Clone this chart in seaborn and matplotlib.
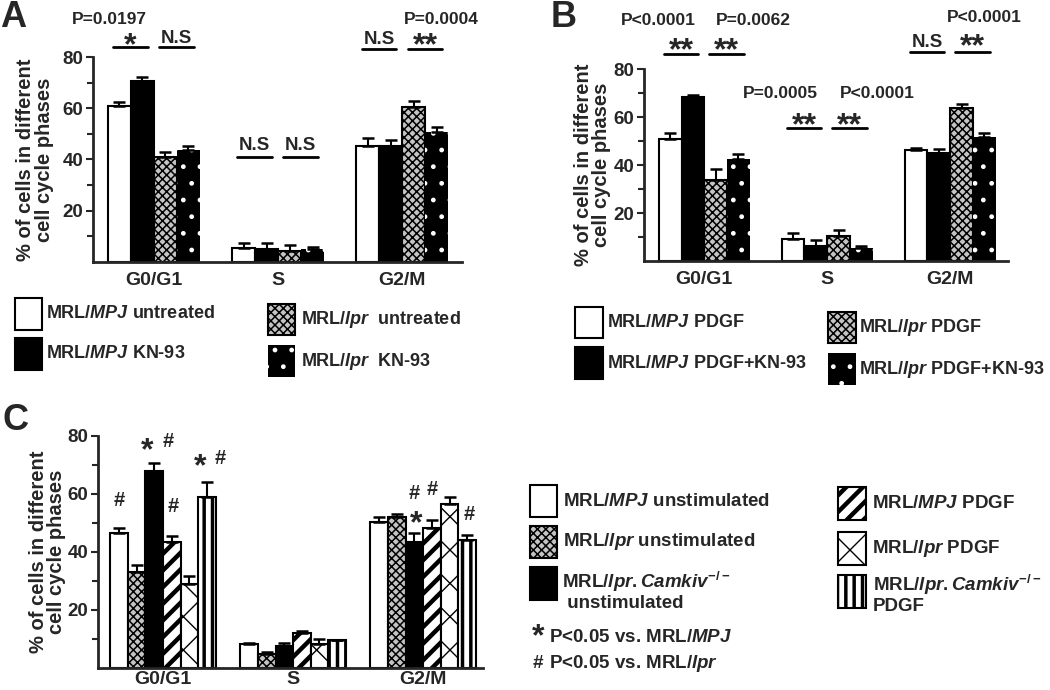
import numpy as np
import pandas as pd
import matplotlib
matplotlib.use("Agg")
import matplotlib.pyplot as plt
from matplotlib.patches import Rectangle
import seaborn as sns

# ---- data (mean %, upper SEM) ----
phases = ["G0/G1", "S", "G2/M"]

# panel A
a_groups = ["MRL/MPJ untreated", "MRL/MPJ KN-93", "MRL/lpr untreated", "MRL/lpr KN-93"]
a_mpj_unt = [61.0, 5.6, 45.3]
a_mpj_unt_err = [1.5, 1.9, 3.2]
a_mpj_kn = [70.7, 5.2, 45.3]
a_mpj_kn_err = [1.3, 2.3, 2.2]
a_lpr_unt = [40.9, 4.3, 60.3]
a_lpr_unt_err = [2.1, 2.2, 2.6]
a_lpr_kn = [43.8, 4.9, 50.8]
a_lpr_kn_err = [1.6, 0.8, 1.7]

# panel B
b_groups = ["MRL/MPJ PDGF", "MRL/MPJ PDGF+KN-93", "MRL/lpr PDGF", "MRL/lpr PDGF+KN-93"]
b_mpj = [50.7, 9.2, 46.1]
b_mpj_err = [2.8, 2.6, 1.0]
b_mpj_kn = [68.3, 6.4, 44.9]
b_mpj_kn_err = [0.7, 2.5, 1.8]
b_lpr = [33.7, 10.5, 63.7]
b_lpr_err = [4.5, 2.6, 1.8]
b_lpr_kn = [42.6, 5.4, 51.7]
b_lpr_kn_err = [2.0, 0.9, 1.8]

# panel C
c_groups = ["MPJ unstim", "lpr unstim", "Camkiv unstim", "MPJ PDGF", "lpr PDGF", "Camkiv PDGF"]
c_mpj_uns = [46.5, 8.3, 50.2]
c_mpj_uns_err = [1.7, 0.3, 1.7]
c_lpr_uns = [33.1, 5.0, 52.2]
c_lpr_uns_err = [2.5, 0.6, 0.8]
c_cam_uns = [68.1, 7.5, 43.6]
c_cam_uns_err = [2.5, 1.1, 2.9]
c_mpj_pdgf = [43.6, 12.1, 48.2]
c_mpj_pdgf_err = [2.0, 0.5, 2.7]
c_lpr_pdgf = [29.0, 8.3, 56.6]
c_lpr_pdgf_err = [2.8, 1.7, 2.5]
c_cam_pdgf = [59.1, 9.5, 44.2]
c_cam_pdgf_err = [5.0, 0.3, 1.5]

# ---- style ----
sns.set_style("ticks")
plt.rcParams["font.family"] = ["Liberation Sans", "DejaVu Sans"]
plt.rcParams["font.weight"] = "bold"
plt.rcParams["axes.labelweight"] = "bold"
plt.rcParams["mathtext.fontset"] = "custom"
plt.rcParams["mathtext.rm"] = "Liberation Sans:bold"
plt.rcParams["mathtext.bf"] = "Liberation Sans:bold"
plt.rcParams["mathtext.it"] = "Liberation Sans:italic:bold"
plt.rcParams["hatch.linewidth"] = 1.0

W, H = 1050, 690
fig = plt.figure(figsize=(10.5, 6.9), dpi=100)


def fx(x):
    return x / W


def fy(y):
    return 1 - y / H


def style_patch(p, kind):
    if kind == "white":
        p.set_facecolor("white")
    elif kind == "black":
        p.set_facecolor("black")
    elif kind == "dots":
        p.set_facecolor("black")
        p.set_edgecolor("white")
        p.set_linewidth(0)
        p.set_hatch(".")
        if hasattr(p, "set_hatchcolor"):
            p.set_hatchcolor("white")
    else:
        hatch, hlw, face = {"checker": ("xxxx", 1.1, "#c4c4c4"),
                            "diag": ("//", 3.2, "white"),
                            "cross": ("x", 1.0, "white"),
                            "vert": ("||", 2.5, "white")}[kind]
        p.set_facecolor(face)
        p.set_hatch(hatch)
        if hasattr(p, "set_hatchcolor"):
            p.set_hatchcolor("black")
        if hasattr(p, "set_hatch_linewidth"):
            p.set_hatch_linewidth(hlw)


def draw_panel(rect, groups, values, errs, kinds, width, xlim, xpad=7):
    ax = fig.add_axes(rect)
    df = pd.DataFrame({
        "phase": np.tile(phases, len(groups)),
        "group": np.repeat(groups, len(phases)),
        "value": np.concatenate(values),
    })
    sns.barplot(data=df, x="phase", y="value", hue="group", order=phases,
                hue_order=groups, palette=["white"] * len(groups), saturation=1,
                edgecolor="black", linewidth=1.5, width=width, errorbar=None,
                legend=False, ax=ax)
    centers = []
    for cont, kind, err in zip(ax.containers, kinds, errs):
        xs, ys = [], []
        for p in cont:
            style_patch(p, kind)
            xs.append(p.get_x() + p.get_width() / 2)
            ys.append(p.get_height())
        ax.errorbar(xs, ys, yerr=[np.zeros(len(err)), err], fmt="none",
                    ecolor="black", elinewidth=1.5, capsize=4, capthick=1.8, zorder=3)
        centers.append(xs)
    ax.set_xlim(*xlim)
    ax.set_ylim(0, 80)
    ax.set_yticks([20, 40, 60, 80])
    ax.set_yticks([10, 30, 50, 70], minor=True)
    ax.tick_params(axis="y", which="major", length=5, width=1.5, labelsize=13.5, pad=2)
    ax.tick_params(axis="y", which="minor", length=4, width=1.5)
    ax.tick_params(axis="x", length=0, labelsize=14, pad=xpad)
    ax.set_xlabel("")
    ax.set_ylabel("% of cells in different\ncell cycle phases", fontsize=14.5,
                  linespacing=0.95)
    sns.despine(ax=ax)
    for s in ("left", "bottom"):
        ax.spines[s].set_linewidth(2)
    return ax, centers


def sig(ax, centers, ph, i, j, y_line, label, y_lab, ptxt=None, pdx=0, py=None):
    x0 = centers[i][ph] - 0.05
    x1 = centers[j][ph] + 0.045
    ax.plot([x0, x1], [y_line, y_line], color="black", lw=2, clip_on=False)
    xm = (x0 + x1) / 2
    fs = 23 if "*" in label else 13.5
    ax.text(xm, y_lab, label, ha="center", va="baseline", fontsize=fs,
            fontweight="bold", clip_on=False)
    if ptxt:
        ax.text(xm + pdx, py, ptxt, ha="center", va="baseline", fontsize=12.5,
                fontweight="bold", clip_on=False)


# ---- panel A ----
axA, cA = draw_panel([fx(93), fy(262), 369 / W, 205 / H], a_groups,
                     [a_mpj_unt, a_mpj_kn, a_lpr_unt, a_lpr_kn],
                     [a_mpj_unt_err, a_mpj_kn_err, a_lpr_unt_err, a_lpr_kn_err],
                     ["white", "black", "checker", "dots"], 0.74, (-0.49, 2.48))
axA.yaxis.set_label_coords(-0.107, 0.5)
sig(axA, cA, 0, 0, 1, 84, "*", 81.2, "P=0.0197", -0.17, 93)
sig(axA, cA, 0, 2, 3, 84, "N.S", 85.6)
sig(axA, cA, 1, 0, 1, 40.8, "N.S", 43.9)
sig(axA, cA, 1, 2, 3, 40.8, "N.S", 43.9)
sig(axA, cA, 2, 0, 1, 83.1, "N.S", 85.1)
sig(axA, cA, 2, 2, 3, 83.1, "**", 81.2, "P=0.0004", 0.135, 93)

# ---- panel B ----
axB, cB = draw_panel([fx(644), fy(261), 364 / W, 192 / H], b_groups,
                     [b_mpj, b_mpj_kn, b_lpr, b_lpr_kn],
                     [b_mpj_err, b_mpj_kn_err, b_lpr_err, b_lpr_kn_err],
                     ["white", "black", "checker", "dots"], 0.74, (-0.49, 2.47))
axB.yaxis.set_label_coords(-0.09, 0.5)
sig(axB, cB, 0, 0, 1, 86.3, "**", 84.2, "P<0.0001", -0.185, 98.3)
sig(axB, cB, 0, 2, 3, 86.3, "**", 84.2, "P=0.0062", 0.215, 98.3)
sig(axB, cB, 1, 0, 1, 55.4, "**", 52.9, "P=0.0005", -0.195, 67.9)
sig(axB, cB, 1, 2, 3, 55.4, "**", 52.9, "P<0.0001", 0.225, 67.9)
sig(axB, cB, 2, 0, 1, 87, "N.S", 89.2)
sig(axB, cB, 2, 2, 3, 87, "**", 85.8, "P<0.0001", 0.095, 99.6)

# ---- panel C ----
axC, cC = draw_panel([fx(98), fy(668), 385 / W, 232 / H], c_groups,
                     [c_mpj_uns, c_lpr_uns, c_cam_uns, c_mpj_pdgf, c_lpr_pdgf, c_cam_pdgf],
                     [c_mpj_uns_err, c_lpr_uns_err, c_cam_uns_err, c_mpj_pdgf_err,
                      c_lpr_pdgf_err, c_cam_pdgf_err],
                     ["white", "checker", "black", "diag", "cross", "vert"], 0.81,
                     (-0.5, 2.46), xpad=2)
axC.yaxis.set_label_coords(-0.082, 0.5)
# (phase, bar, symbol, dx, baseline y)
c_marks = [
    (0, 0, "#", 0.0, 55.9), (0, 2, "*", -0.055, 72.1), (0, 2, "#", 0.105, 76.2),
    (0, 3, "#", 0.01, 53.8), (0, 5, "*", -0.055, 66.6), (0, 5, "#", 0.105, 70.3),
    (2, 2, "*", 0.015, 46.9), (2, 2, "#", 0.0, 58.3), (2, 3, "#", 0.0, 59.7),
    (2, 5, "#", 0.02, 51.0),
]
for ph, b, sym, dx, yy in c_marks:
    axC.text(cC[b][ph] + dx, yy, sym, ha="center", va="baseline",
             fontsize=23 if sym == "*" else 14.5, fontweight="bold", clip_on=False)


# ---- legends (drawn as swatches + text, pixel layout of the original) ----
def swatch(x, y, w, h, kind):
    r = Rectangle((fx(x), fy(y + h)), w / W, h / H, transform=fig.transFigure,
                  facecolor="white", edgecolor="black", linewidth=1.5)
    style_patch(r, kind)
    fig.add_artist(r)


def entry(x, y, w, h, kind, tx, label, fs=13):
    swatch(x, y, w, h, kind)
    fig.text(fx(tx), fy(y + h / 2), label, ha="left", va="center", fontsize=fs,
             fontweight="bold", linespacing=1.1)


a_labels = ["MRL/$MPJ$ untreated", "MRL/$MPJ$ KN-93",
            "MRL/$lpr$  untreated", "MRL/$lpr$  KN-93"]
entry(15, 298, 27, 32, "white", 46, a_labels[0])
entry(15, 338, 27, 32, "black", 46, a_labels[1])
entry(268, 304, 27, 31, "checker", 301, a_labels[2])
entry(268, 345, 27, 32, "dots", 301, a_labels[3])

b_labels = ["MRL/$MPJ$ PDGF", "MRL/$MPJ$ PDGF+KN-93",
            "MRL/$lpr$ PDGF", "MRL/$lpr$ PDGF+KN-93"]
entry(575, 307, 28, 31, "white", 607, b_labels[0])
entry(575, 347, 28, 32, "black", 607, b_labels[1])
entry(828, 312, 28, 31, "checker", 859, b_labels[2])
entry(828, 353, 28, 32, "dots", 859, b_labels[3])

c_labels = ["MRL/$MPJ$ unstimulated", "MRL/$lpr$ unstimulated",
            "MRL/$lpr.Camkiv^{-/-}$\n unstimulated", "MRL/$MPJ$ PDGF",
            "MRL/$lpr$ PDGF", "MRL/$lpr.Camkiv^{-/-}$\nPDGF"]
entry(530, 485, 27, 32, "white", 563, c_labels[0], 13.5)
entry(530, 526, 27, 32, "checker", 563, c_labels[1], 13.5)
swatch(530, 567, 27, 33, "black")
fig.text(fx(562), fy(591), c_labels[2], ha="left", va="center", fontsize=13.5,
         fontweight="bold", linespacing=1.05)
entry(838, 487, 28, 33, "diag", 872, c_labels[3], 13.5)
entry(838, 532, 28, 33, "cross", 872, c_labels[4], 13.5)
swatch(838, 575, 28, 33, "vert")
fig.text(fx(873), fy(594), c_labels[5], ha="left", va="center", fontsize=13.5,
         fontweight="bold", linespacing=1.05)

fig.text(fx(538), fy(645), "*", ha="center", va="baseline", fontsize=23,
         fontweight="bold")
fig.text(fx(549), fy(637), "P<0.05 vs. MRL/$MPJ$", ha="left", va="center",
         fontsize=13.5, fontweight="bold")
fig.text(fx(538), fy(663), "#", ha="center", va="center", fontsize=13.5,
         fontweight="bold")
fig.text(fx(549), fy(663), "P<0.05 vs. MRL/$lpr$", ha="left", va="center",
         fontsize=13.5, fontweight="bold")

# panel letters
fig.text(fx(0), fy(0), "A", ha="left", va="top", fontsize=26, fontweight="bold")
fig.text(fx(551), fy(0), "B", ha="left", va="top", fontsize=26, fontweight="bold")
fig.text(fx(3), fy(403), "C", ha="left", va="top", fontsize=26, fontweight="bold")

fig.savefig("out.png", dpi=100)
